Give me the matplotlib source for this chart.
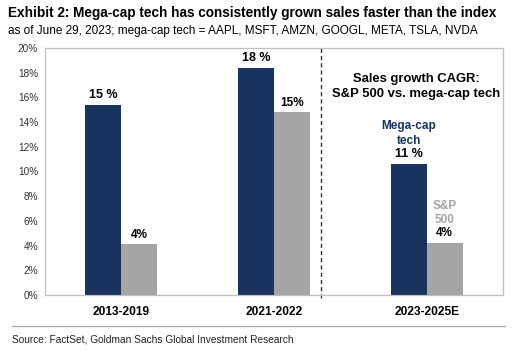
import numpy as np
import matplotlib
matplotlib.use("Agg")
import matplotlib.pyplot as plt
from matplotlib.lines import Line2D

plt.rcParams["font.family"] = ["Liberation Sans", "DejaVu Sans"]

# ----------------------------------------------------------------------
# data
# ----------------------------------------------------------------------
periods = ["2013-2019", "2021-2022", "2023-2025E"]
megacap = [15.4, 18.4, 10.6]
sp500 = [4.1, 14.8, 4.2]
megacap_labels = ["15 %", "18 %", "11 %"]
sp500_labels = ["4%", "15%", "4%"]

NAVY = "#17335e"
GRAY = "#a5a5a5"
FRAME = "#bfbfbf"

fig = plt.figure(figsize=(5.12, 3.51), dpi=100)
ax = fig.add_axes([45 / 512, 1 - 295 / 351, 458 / 512, 247 / 351])

x = np.arange(len(periods))
w = 0.236
ax.bar(x - w / 2, megacap, w, color=NAVY, zorder=2)
ax.bar(x + w / 2, sp500, w, color=GRAY, zorder=2)

for i in range(len(periods)):
    ax.text(x[i] - w / 2, megacap[i] + 0.3, megacap_labels[i], ha="center", va="bottom",
            fontsize=9, fontweight="bold", color="black")
    ax.text(x[i] + w / 2, sp500[i] + 0.3, sp500_labels[i], ha="center", va="bottom",
            fontsize=8.5, fontweight="bold", color="black")

# series names next to the last group
ax.text(x[2] - w / 2, megacap[2] + 1.4, "Mega-cap\ntech", ha="center", va="bottom",
        fontsize=8.5, fontweight="bold", color=NAVY, linespacing=1.3)
ax.text(x[2] + w / 2, sp500[2] + 1.35, "S&P\n500", ha="center", va="bottom",
        fontsize=8.5, fontweight="bold", color=GRAY, linespacing=1.3)

ax.text(1.93, 16.9, "Sales growth CAGR:\nS&P 500 vs. mega-cap tech", ha="center", va="center",
        fontsize=9.4, fontweight="bold", color="black", linespacing=1.35)

ax.axvline(1.31, ymin=-0.012, color="#333333", linestyle=(0, (3, 2.2)), linewidth=1.0,
           zorder=1, clip_on=False)

ax.set_xlim(-0.5, 2.5)
ax.set_ylim(0, 20)
ax.set_yticks(np.arange(0, 21, 2))
ax.set_yticklabels([f"{v}%" for v in range(0, 21, 2)], fontsize=7.2, color="#333333")
ax.set_xticks(x)
ax.set_xticklabels(periods, fontsize=8.6, fontweight="bold")
ax.tick_params(length=0, pad=5)
ax.tick_params(axis="x", pad=8)
for s in ax.spines.values():
    s.set_color(FRAME)
    s.set_linewidth(0.9)

fig.text(8 / 512, 1 - 13 / 351, "Exhibit 2: Mega-cap tech has consistently grown sales faster than the index",
         fontsize=9.8, fontweight="bold", va="center")
fig.text(8 / 512, 1 - 31 / 351, "as of June 29, 2023; mega-cap tech = AAPL, MSFT, AMZN, GOOGL, META, TSLA, NVDA",
         fontsize=8.5, va="center")
fig.add_artist(Line2D([12 / 512, 505 / 512], [1 - 326 / 351] * 2, color="#b0b0b0", linewidth=1.0))
fig.text(12 / 512, 1 - 340 / 351, "Source: FactSet, Goldman Sachs Global Investment Research",
         fontsize=7.3, va="center", color="#222222")

fig.savefig("out.png", dpi=100)
